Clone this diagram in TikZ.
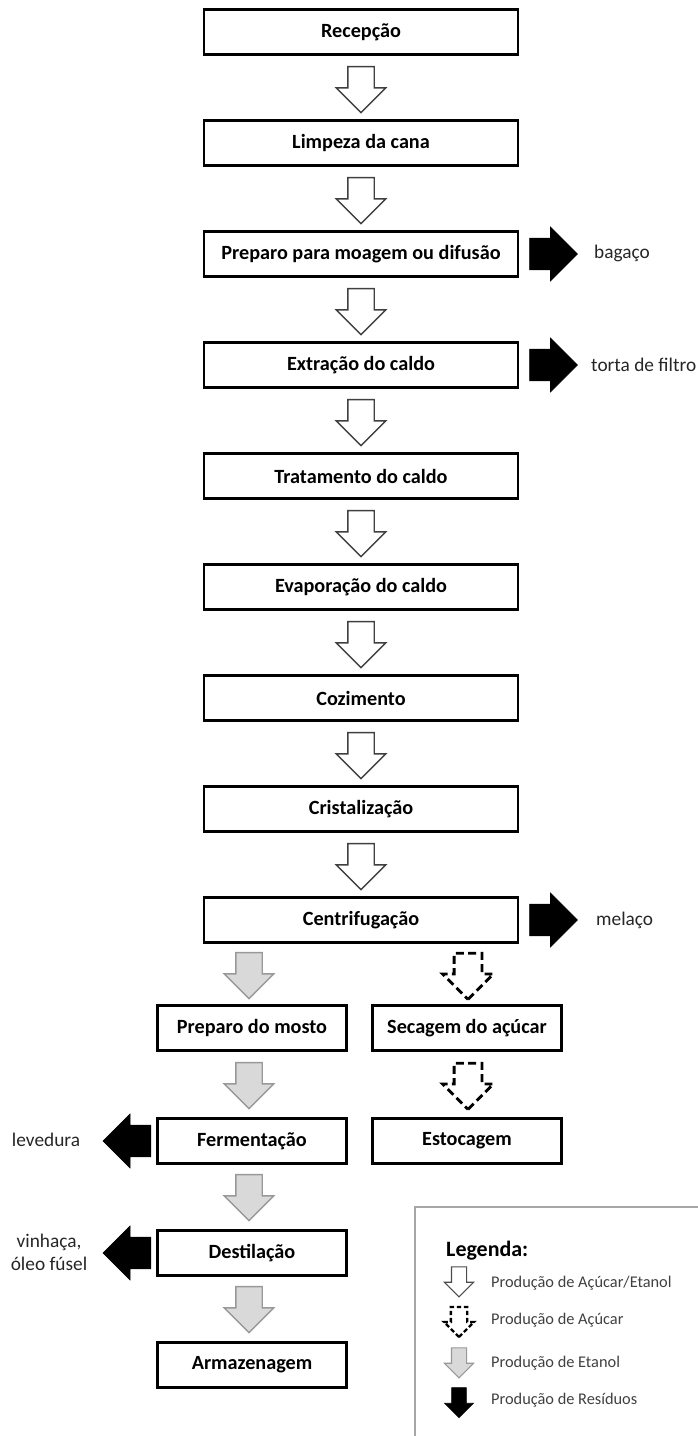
\documentclass[tikz,border=0pt]{standalone}
\usepackage{fontspec}
\setmainfont{Carlito}
\usetikzlibrary{shapes.arrows,calc}
\begin{document}
\begin{tikzpicture}[x=0.02cm,y=-0.02cm]
\tikzstyle{box_style} = [draw, line width=1.6pt, minimum width=6.28cm, minimum height=0.9cm, font=\fontsize{11.5}{13}\bfseries]
\tikzstyle{small_box} = [box_style, minimum width=3.78cm]
\tikzstyle{down_base} = [single arrow, rotate=-90, anchor=tail, minimum height=0.92cm, inner sep=0.25cm, single arrow head extend=0.23cm]
\tikzstyle{white_arrow} = [down_base, draw=black!75, line width=0.8pt, fill=white]
\tikzstyle{gray_arrow} = [down_base, draw=gray!80, line width=0.8pt, fill=gray!30]
\tikzstyle{dash_arrow} = [down_base, draw=black, line width=1.6pt, dash pattern=on 4.5pt off 2.5pt]
\tikzstyle{waste_arrow} = [single arrow, anchor=tail, draw, fill=black, minimum height=0.86cm, inner sep=0.31cm, single arrow head extend=0.22cm]
\tikzstyle{side_label} = [font=\fontsize{11}{13}\selectfont, text=black!85]
\tikzstyle{legend_text} = [anchor=west, font=\fontsize{9.3}{11}\selectfont, text=black!75]
\tikzstyle{legend_base} = [single arrow, rotate=-90, minimum height=0.6cm, inner sep=0.14cm, single arrow head extend=0.14cm]
\useasboundingbox (0,0) rectangle (697,1436);

    % main line
    \node[box_style] (recep) at (361,32) {Recepção};
    \node[box_style] (limp) at (361,143) {Limpeza da cana};
    \node[box_style] (prep) at (361,254) {Preparo para moagem ou difusão};
    \node[box_style] (extr) at (361,365) {Extração do caldo};
    \node[box_style] (trat) at (361,476) {Tratamento do caldo};
    \node[box_style] (evap) at (361,587) {Evaporação do caldo};
    \node[box_style] (coz) at (361,698) {Cozimento};
    \node[box_style] (crist) at (361,809) {Cristalização};
    \node[box_style] (centr) at (361,920) {Centrifugação};

    \node[white_arrow] (a1) at ($(recep.south)+(0,10)$) {};
    \node[white_arrow] (a2) at ($(limp.south)+(0,10)$) {};
    \node[white_arrow] (a3) at ($(prep.south)+(0,10)$) {};
    \node[white_arrow] (a4) at ($(extr.south)+(0,10)$) {};
    \node[white_arrow] (a5) at ($(trat.south)+(0,10)$) {};
    \node[white_arrow] (a6) at ($(evap.south)+(0,10)$) {};
    \node[white_arrow] (a7) at ($(coz.south)+(0,10)$) {};
    \node[white_arrow] (a8) at ($(crist.south)+(0,10)$) {};

    % two branches
    \node[small_box] (mosto) at (252,1028) {Preparo do mosto};
    \node[small_box] (ferm) at (252,1141) {Fermentação};
    \node[small_box] (dest) at (252,1253) {Destilação};
    \node[small_box] (armaz) at (252,1365) {Armazenagem};
    \node[small_box] (sec) at (467,1028) {Secagem do açúcar};
    \node[small_box] (estoc) at (467,1141) {Estocagem};

    \node[gray_arrow] (g1) at ($(centr.south -| mosto)+(-3,8)$) {};
    \node[gray_arrow] (g2) at ($(mosto.south)+(-3,10)$) {};
    \node[gray_arrow] (g3) at ($(ferm.south)+(-3,9)$) {};
    \node[gray_arrow] (g4) at ($(dest.south)+(-3,9)$) {};
    \node[dash_arrow] (d1) at ($(centr.south -| sec)+(1,8)$) {};
    \node[dash_arrow] (d2) at ($(sec.south)+(1,10)$) {};

    % residues
    \node[waste_arrow] (w1) at ($(prep.east)+(10,0)$) {};
    \node[waste_arrow] (w2) at ($(extr.east)+(10,0)$) {};
    \node[waste_arrow] (w3) at ($(centr.east)+(10,0)$) {};
    \node[waste_arrow, rotate=180] (w4) at ($(ferm.west)+(-5,0)$) {};
    \node[waste_arrow, rotate=180] (w5) at ($(dest.west)+(-5,0)$) {};

    \node[side_label, anchor=west] (bag) at (588,253) {bagaço};
    \node[side_label, anchor=west] (torta) at (585,365) {torta de filtro};
    \node[side_label, anchor=west] (mel) at (590,920) {melaço};
    \node[side_label] (lev) at (46,1140) {levedura};
    \node[side_label, align=center] (vinh) at (49,1252) {vinhaça,\\óleo fúsel};

    % legend
    \draw[draw=gray!70, line width=1pt] (415,1207) rectangle (705,1450);
    \node[anchor=west, font=\fontsize{12.5}{14}\bfseries] (leg) at (440,1251) {Legenda:};
    \node[legend_base, draw=black!70, line width=0.6pt, fill=white] (l1) at (459,1278) {};
    \node[legend_base, draw=black, line width=1.3pt, dash pattern=on 2.5pt off 1.5pt] (l2) at (459,1318) {};
    \node[legend_base, draw=gray!80, line width=0.6pt, fill=gray!30] (l3) at (459,1359) {};
    \node[legend_base, draw, fill=black] (l4) at (459,1399) {};
    \node[legend_text] (t1) at (485,1283) {Produção de Açúcar/Etanol};
    \node[legend_text] (t2) at (485,1320) {Produção de Açúcar};
    \node[legend_text] (t3) at (485,1363) {Produção de Etanol};
    \node[legend_text] (t4) at (485,1400) {Produção de Resíduos};
\end{tikzpicture}
\end{document}
